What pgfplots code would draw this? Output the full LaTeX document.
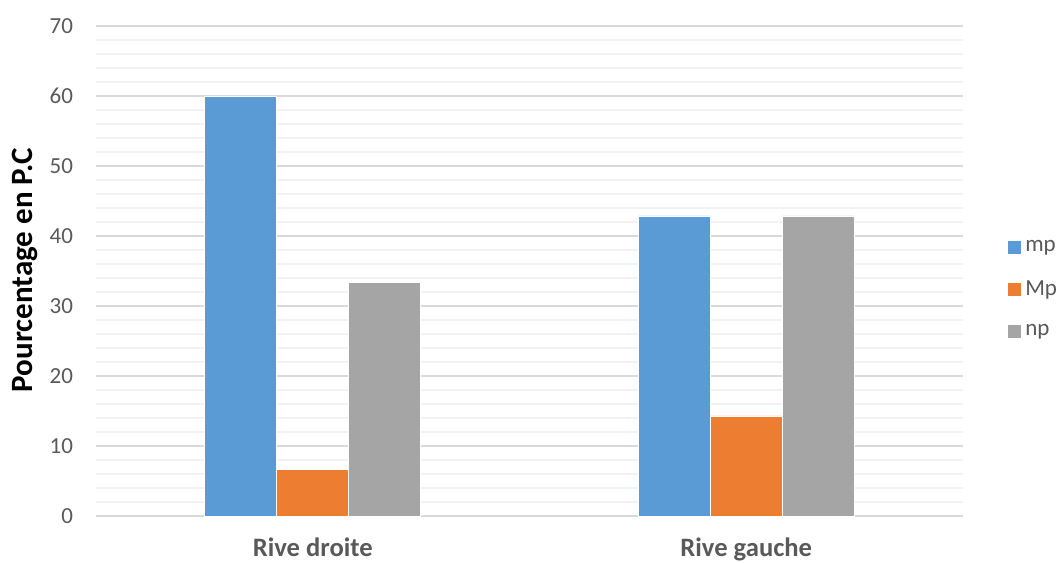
\documentclass[border=0pt]{standalone}
\usepackage{pgfplots}
\pgfplotsset{compat=1.18}
\usepackage{fontspec}
\setmainfont{Carlito}
\definecolor{cmp}{HTML}{5B9BD5}
\definecolor{cMp}{HTML}{ED7D31}
\definecolor{cnp}{HTML}{A5A5A5}
\definecolor{txt}{HTML}{595959}
\definecolor{gmaj}{HTML}{D9D9D9}
\definecolor{gmin}{HTML}{F2F2F2}
\begin{document}
\begin{tikzpicture}
\begin{axis}[
  scale only axis,
  width=433.5pt, height=245pt,
  ybar=0pt, bar width=36pt,
  xmin=-0.5, xmax=1.5,
  ymin=0, ymax=70,
  xtick=data,
  xticklabels={Rive droite, Rive gauche},
  ytick={0,10,...,70},
  minor y tick num=4,
  ymajorgrids, yminorgrids,
  major grid style={gmaj, line width=0.6pt},
  minor grid style={gmin, line width=0.6pt},
  axis line style={draw=none},
  axis x line*=bottom,
  axis y line*=left,
  major tick length=0pt, minor tick length=0pt,
  /pgf/number format/assume math mode=true,
  yticklabel style={font=\fontsize{11.5}{12}\selectfont, text=txt, xshift=-8pt},
  xticklabel style={font=\fontsize{13.3}{14}\selectfont\bfseries, text=txt, yshift=-7.5pt},
  ylabel={Pourcentage en P.C},
  ylabel style={font=\fontsize{15.5}{16}\selectfont\bfseries, at={(axis description cs:-0.082,0.502)}, anchor=center},
  legend style={draw=none, at={(axis description cs:1.043,0.462)}, anchor=west,
    font=\fontsize{11.5}{12}\selectfont, text=txt, row sep=9pt},
  legend cell align=left,
  legend image code/.code={\fill[#1] (0pt,-3.5pt) rectangle (7pt,3.5pt);},
  clip=false,
]
\draw[gmaj, line width=0.8pt] (axis cs:-0.5,0) -- (axis cs:1.5,0);
\addplot[fill=cmp, draw=white, line width=0.3pt] coordinates {(0,60.0) (1,42.86)};
\addplot[fill=cMp, draw=white, line width=0.3pt] coordinates {(0,6.67) (1,14.29)};
\addplot[fill=cnp, draw=white, line width=0.3pt] coordinates {(0,33.33) (1,42.86)};
\legend{mp, Mp, np}
\end{axis}
\pgfresetboundingbox
\path (-48pt,-23pt) rectangle (481pt,258pt);
\end{tikzpicture}
\end{document}
